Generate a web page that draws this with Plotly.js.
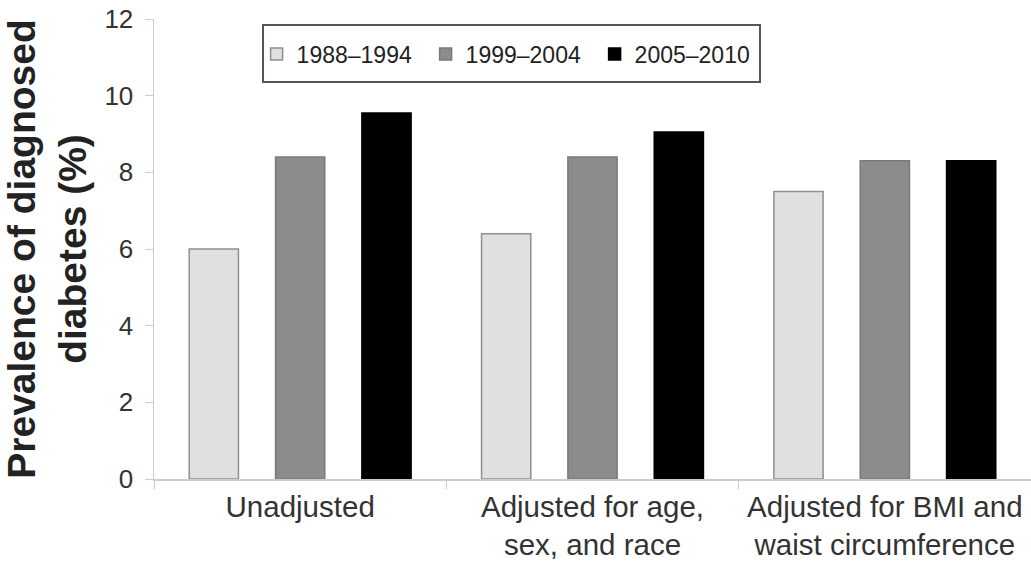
<!DOCTYPE html>
<html>
<head>
<meta charset="utf-8">
<script src="https://cdn.plot.ly/plotly-3.0.1.min.js"></script>
<style>html,body{margin:0;padding:0;background:#fff;}#chart{width:1031px;height:562px;}</style>
</head>
<body>
<div id="chart"></div>
<script>
var categories = ["Unadjusted", "Adjusted for age,<br>sex, and race", "Adjusted for BMI and<br>waist circumference"];
var seriesNames = ["1988\u20131994", "1999\u20132004", "2005\u20132010"];
var values1988 = [6.0, 6.4, 7.5];
var values1999 = [8.4, 8.4, 8.3];
var values2005 = [9.55, 9.05, 8.3];
var yTicks = [0, 2, 4, 6, 8, 10, 12];

var colors = ["#e0e0e0", "#8c8c8c", "#000000"];
var lines = ["#8f8f8f", "#7a7a7a", "#000000"];
var allValues = [values1988, values1999, values2005];

var data = allValues.map(function(v, i) {
  return {
    type: "bar",
    name: seriesNames[i],
    x: categories,
    y: v,
    marker: {color: colors[i], line: {color: lines[i], width: 1.5}},
    hoverinfo: "x+y"
  };
});

var layout = {
  width: 1031,
  height: 562,
  margin: {l: 154, r: 0, t: 19, b: 83},
  paper_bgcolor: "#ffffff",
  plot_bgcolor: "#ffffff",
  font: {family: "Liberation Sans, Arial, sans-serif", color: "#333333", size: 22},
  barmode: "group",
  bargap: 0.114,
  bargroupgap: 0.43,
  showlegend: true,
  legend: {
    orientation: "h",
    x: 0.117, xanchor: "left",
    y: 0.924, yanchor: "middle",
    borderwidth: 0,
    bgcolor: "rgba(0,0,0,0)",
    font: {size: 23, color: "#222222"},
    entrywidth: 124,
    traceorder: "normal"
  },
  shapes: [{
    type: "rect", xref: "paper", yref: "paper",
    x0: 0.1243, x1: 0.691, y0: 0.863, y1: 0.987,
    line: {color: "#555555", width: 2},
    fillcolor: "#ffffff",
    layer: "below"
  }],
  xaxis: {
    type: "category",
    showline: true,
    linecolor: "#cccccc",
    linewidth: 1.5,
    ticks: "outside",
    tickson: "boundaries",
    ticklen: 8,
    tickcolor: "#cccccc",
    ticklabelstandoff: 1,
    showgrid: false,
    tickfont: {size: 29.5, color: "#333333"},
    fixedrange: true
  },
  yaxis: {
    range: [0, 12],
    tickvals: yTicks,
    ticktext: yTicks.map(String),
    showline: true,
    linecolor: "#cccccc",
    linewidth: 1.5,
    ticks: "outside",
    ticklen: 8,
    tickcolor: "#cccccc",
    ticklabelstandoff: 6,
    showgrid: false,
    zeroline: false,
    tickfont: {size: 26, color: "#333333"},
    title: {text: "<b>Prevalence of diagnosed<br>diabetes (%)</b>", font: {size: 39, color: "#222222"}, standoff: 12},
    automargin: false,
    fixedrange: true
  }
};

Plotly.newPlot("chart", data, layout, {displayModeBar: false, staticPlot: true});
</script>
</body>
</html>
